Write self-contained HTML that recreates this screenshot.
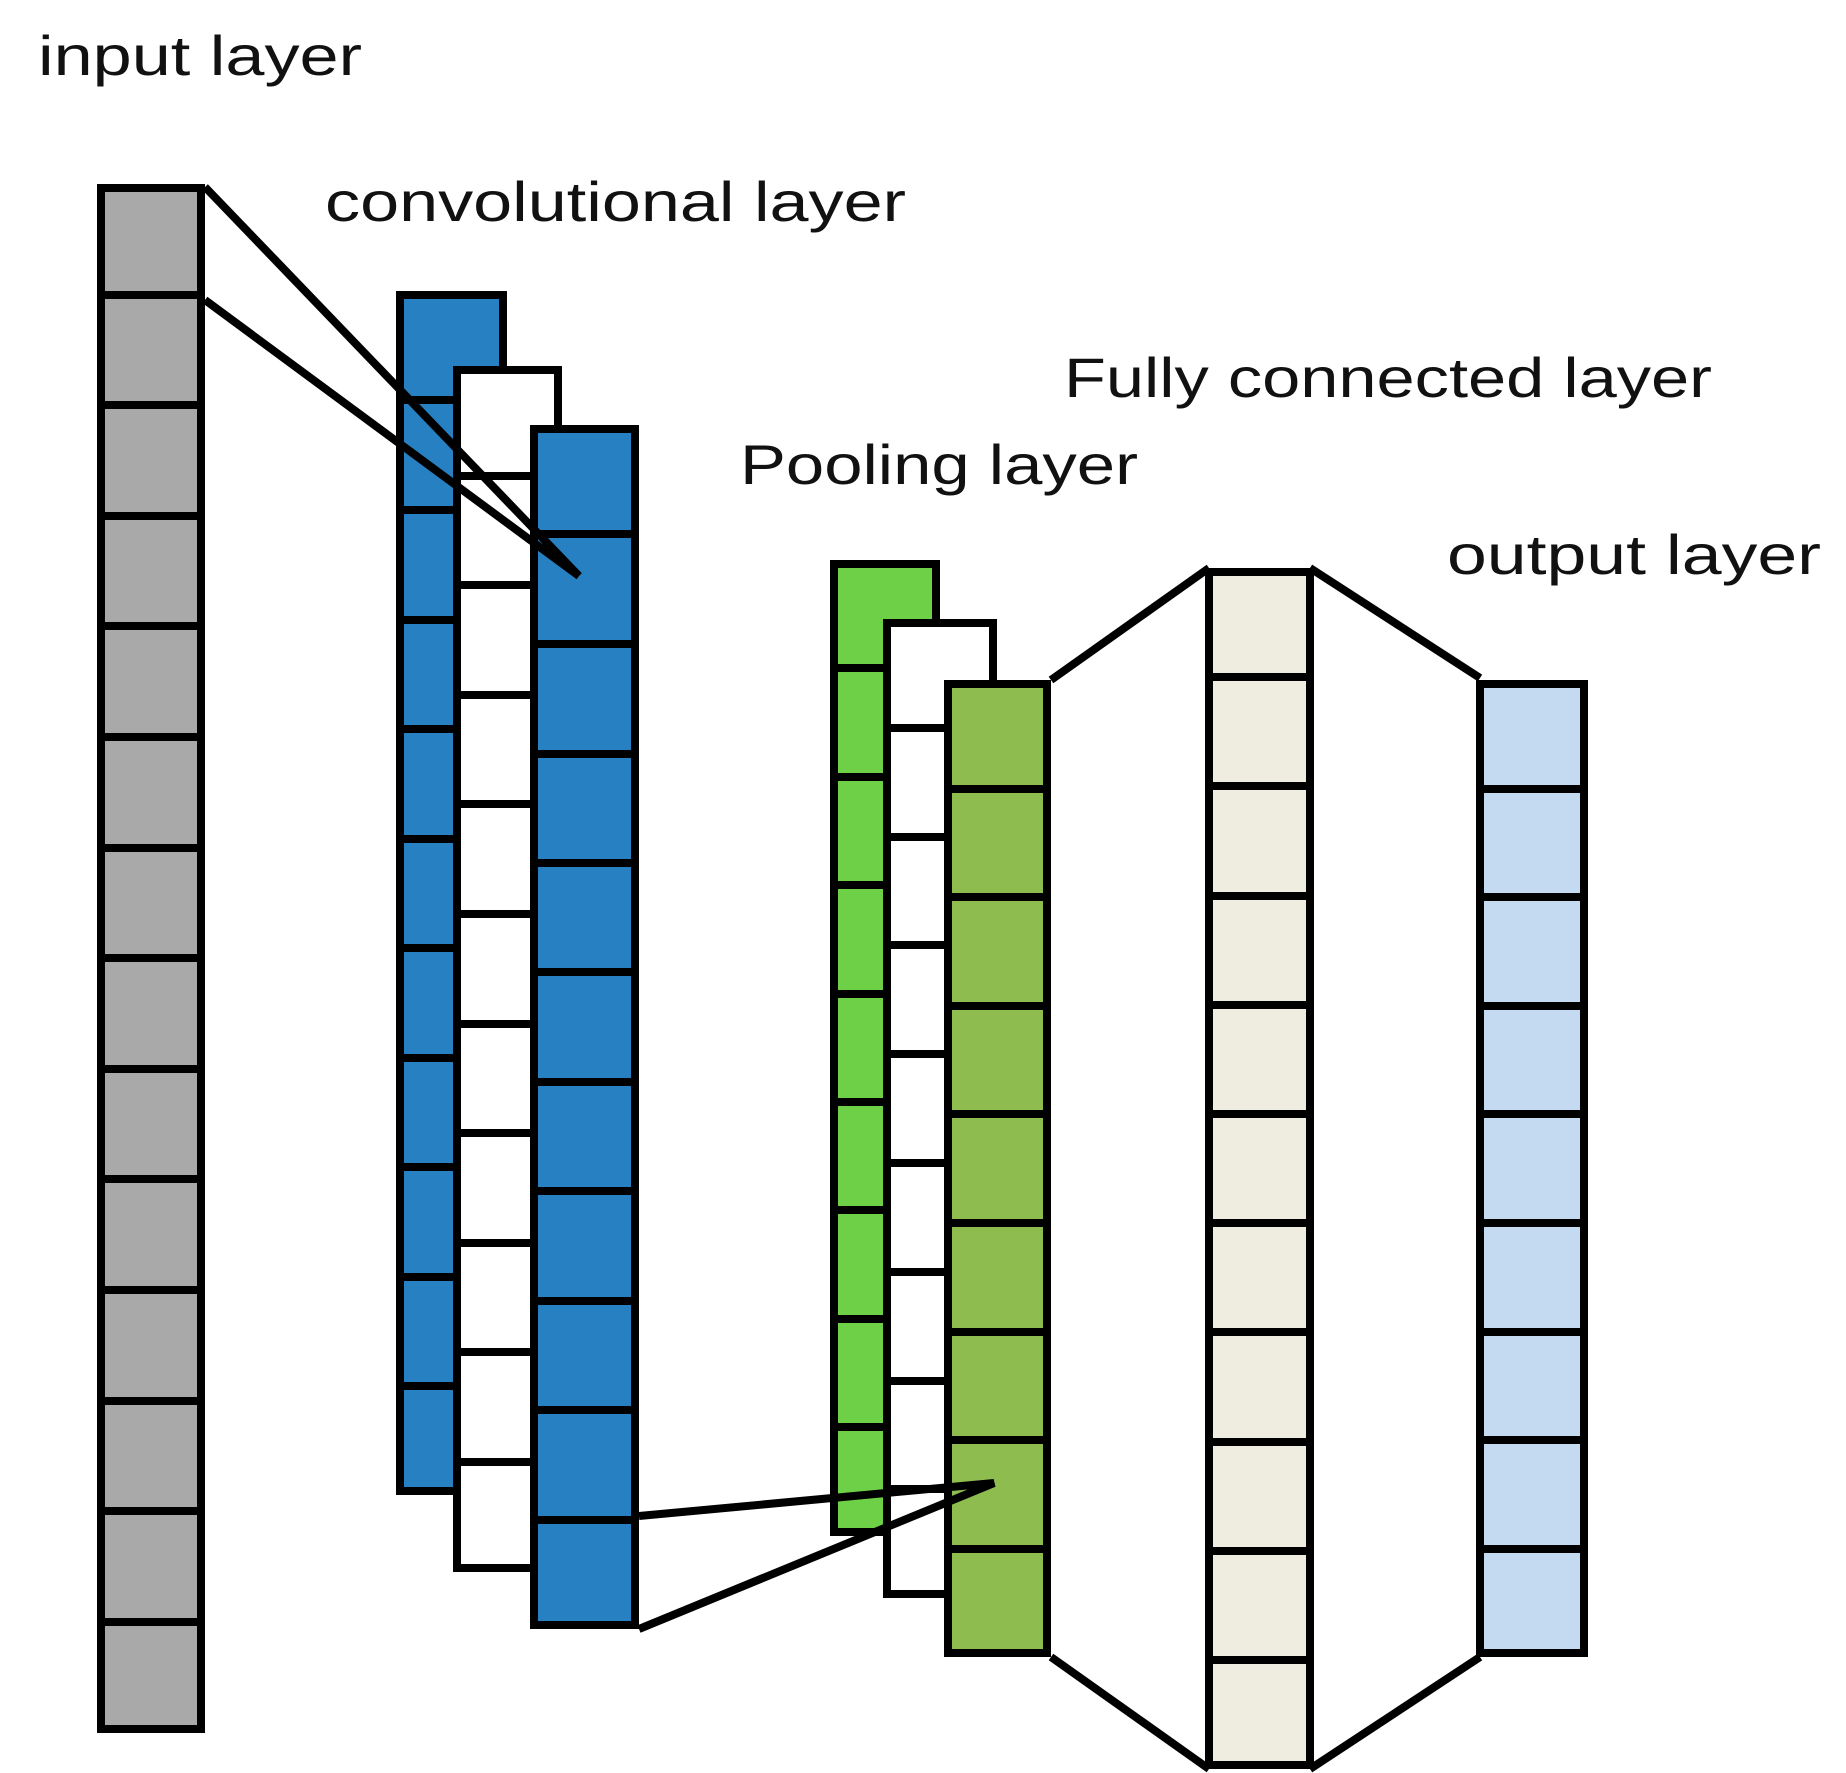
<!DOCTYPE html>
<html><head><meta charset="utf-8"><style>
html,body{margin:0;padding:0;background:#fff;}
svg{display:block}
text{font-family:"Liberation Sans",sans-serif;font-size:56px;fill:#111;}
</style></head><body>
<svg width="1846" height="1773" viewBox="0 0 1846 1773" xmlns="http://www.w3.org/2000/svg">
<g stroke="#000" stroke-width="8" stroke-linejoin="miter">
<!-- input -->
<rect x="101" y="188" width="100" height="1541" fill="#a9a9a9"/>
<path d="M101 295H201M101 405H201M101 516H201M101 626H201M101 737H201M101 848H201M101 958H201M101 1069H201M101 1179H201M101 1290H201M101 1401H201M101 1511H201M101 1622H201"/>
<!-- conv back -->
<rect x="400" y="295" width="103" height="1196" fill="#2680c2"/>
<path d="M400 400H503M400 510H503M400 620H503M400 729H503M400 839H503M400 948H503M400 1058H503M400 1167H503M400 1277H503M400 1386H503"/>
<rect x="457" y="370" width="101" height="1198" fill="#fff"/>
<path d="M457 476H558M457 585H558M457 695H558M457 804H558M457 914H558M457 1024H558M457 1133H558M457 1243H558M457 1352H558M457 1462H558"/>
<rect x="534" y="429" width="101" height="1196" fill="#2680c2"/>
<path d="M534 534H635M534 644H635M534 754H635M534 863H635M534 972H635M534 1082H635M534 1191H635M534 1301H635M534 1410H635M534 1520H635"/>
<!-- pooling -->
<rect x="834" y="564" width="102" height="968" fill="#6dd047"/>
<path d="M834 668H936M834 777H936M834 885H936M834 994H936M834 1102H936M834 1210H936M834 1319H936M834 1427H936"/>
<rect x="887" y="623" width="106" height="971" fill="#fff"/>
<path d="M887 728H993M887 837H993M887 945H993M887 1054H993M887 1163H993M887 1272H993M887 1381H993M887 1489H993"/>
<rect x="948" y="684" width="99" height="969" fill="#8fbc4f"/>
<path d="M948 789H1047M948 897H1047M948 1006H1047M948 1114H1047M948 1223H1047M948 1332H1047M948 1440H1047M948 1549H1047"/>
<!-- FC -->
<rect x="1209" y="572" width="101" height="1193" fill="#efece0"/>
<path d="M1209 677H1310M1209 786H1310M1209 896H1310M1209 1005H1310M1209 1114H1310M1209 1223H1310M1209 1332H1310M1209 1442H1310M1209 1551H1310M1209 1660H1310"/>
<!-- output -->
<rect x="1480" y="684" width="104" height="969" fill="#c3daf0"/>
<path d="M1480 789H1584M1480 897H1584M1480 1006H1584M1480 1114H1584M1480 1223H1584M1480 1332H1584M1480 1440H1584M1480 1549H1584"/>
<!-- connectors -->
<path fill="none" d="M205 187L579 576M205 300L579 576"/>
<path fill="none" d="M639 1516L994 1483L639 1629"/>
<path fill="none" d="M1051 680L1209 568M1310 568L1480 678M1051 1657L1209 1769M1310 1769L1480 1657"/>
</g>
<text x="38" y="75" textLength="324" lengthAdjust="spacingAndGlyphs">input layer</text>
<text x="325" y="221" textLength="581" lengthAdjust="spacingAndGlyphs">convolutional layer</text>
<text x="740" y="484" textLength="398" lengthAdjust="spacingAndGlyphs">Pooling layer</text>
<text x="1064" y="397" textLength="648" lengthAdjust="spacingAndGlyphs">Fully connected layer</text>
<text x="1447" y="574" textLength="374" lengthAdjust="spacingAndGlyphs">output layer</text>
</svg>
</body></html>
